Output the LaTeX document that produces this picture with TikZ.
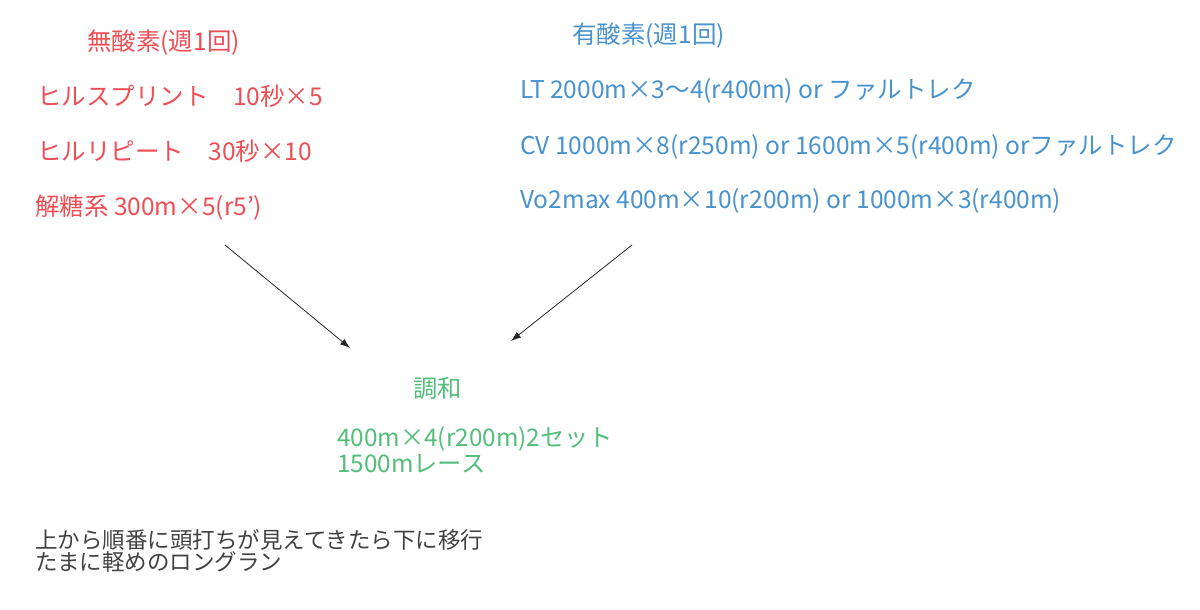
\documentclass[tikz,border=0pt]{standalone}
\usepackage{fontspec}
\setmainfont{Noto Sans CJK JP}
\usetikzlibrary{arrows.meta}
\definecolor{anaRed}{RGB}{238,78,84}
\definecolor{aerBlue}{RGB}{72,146,206}
\definecolor{harmGreen}{RGB}{82,190,122}
\definecolor{noteGray}{RGB}{66,66,66}
\tikzset{
  line/.style={anchor=base west,inner sep=0pt,font=\fontsize{24.5}{28}\selectfont},
  ana/.style={line,text=anaRed},
  aer/.style={line,text=aerBlue},
  harm/.style={line,text=harmGreen,align=left,font=\fontsize{24.3}{26}\selectfont},
  note/.style={line,text=noteGray,align=left,font=\fontsize{22.5}{22}\selectfont},
  conn/.style={-{Latex[length=10pt,width=7pt]},line width=0.8pt,draw=black!85}
}
\begin{document}
\begin{tikzpicture}[x=1pt,y=-1pt]
  \useasboundingbox[fill=white] (0,0) rectangle (1200,610);

  % anaerobic
  \node [ana] (anaTitle) at (87,51) {無酸素(週1回)};
  \node [ana] (hillSprint) at (37,106) {ヒルスプリント　10秒×5};
  \node [ana] (hillRepeat) at (37,160) {ヒルリピート　30秒×10};
  \node [ana] (glyco) at (35,215) {解糖系 300m×5(r5')};

  % aerobic
  \node [aer] (aerTitle) at (572,44) {有酸素(週1回)};
  \node [aer] (ltRun) at (520,99) {LT 2000m×3〜4(r400m) or ファルトレク};
  \node [aer] (cvRun) at (520,154) {CV 1000m×8(r250m) or 1600m×5(r400m) orファルトレク};
  \node [aer] (vo2Run) at (520,208) {Vo2max 400m×10(r200m) or 1000m×3(r400m)};

  % harmony
  \node [harm] (harmTitle) at (413,397) {調和};
  \node [harm] (harmBody) at (337,472) {400m×4(r200m)2セット\\1500mレース};

  \node [note] (note) at (35,570) {上から順番に頭打ちが見えてきたら下に移行\\たまに軽めのロングラン};

  \coordinate (anaOut) at (225,245);
  \coordinate (aerOut) at (632,245);
  \coordinate (harmInL) at (350,348);
  \coordinate (harmInR) at (511,341);
  \draw [conn] (anaOut) -- (harmInL);
  \draw [conn] (aerOut) -- (harmInR);
\end{tikzpicture}
\end{document}
